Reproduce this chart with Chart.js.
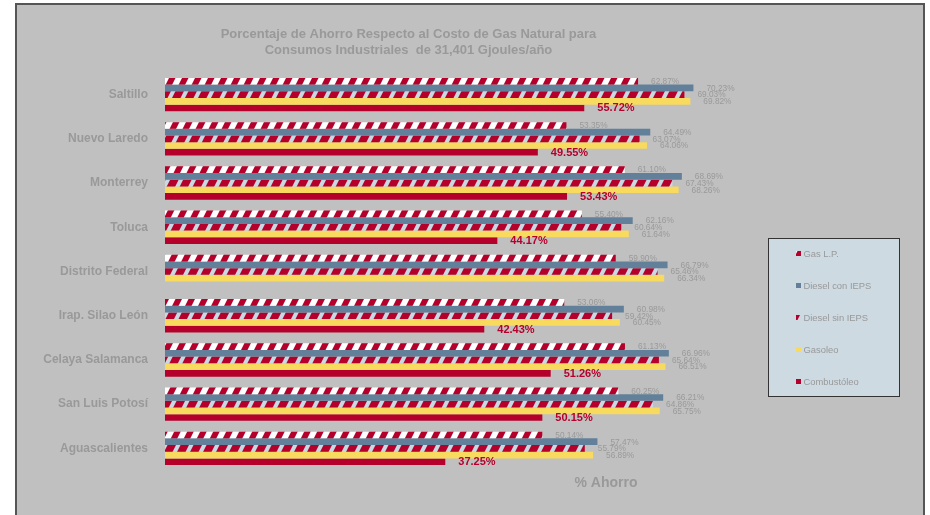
<!DOCTYPE html>
<html>
<head>
<meta charset="utf-8">
<script src="https://cdn.jsdelivr.net/npm/chart.js@4.4.0/dist/chart.umd.min.js"></script>
<style>
  body { margin: 0; background: #fff; }
  #frame { position: absolute; left: 15px; top: 3px; width: 906px; height: 530px;
           background: #c0c0c0; border: 2px solid #555; border-bottom: none; }
  #wrap { position: absolute; left: 0; top: 0; width: 930px; height: 515px; }
</style>
</head>
<body>
<div id="frame"></div>
<div id="wrap"><canvas id="chart" width="930" height="515"></canvas></div>
<script>
const cities = ['Saltillo', 'Nuevo Laredo', 'Monterrey', 'Toluca', 'Distrito Federal',
                'Irap. Silao León', 'Celaya Salamanca', 'San Luis Potosí', 'Aguascalientes'];
const gasLP        = [62.87, 53.35, 61.10, 55.40, 59.90, 53.06, 61.13, 60.25, 50.14];
const dieselConIEPS = [70.23, 64.49, 68.69, 62.16, 66.79, 60.98, 66.96, 66.21, 57.47];
const dieselSinIEPS = [69.03, 63.07, 67.43, 60.64, 65.46, 59.42, 65.64, 64.86, 55.79];
const gasoleo      = [69.82, 64.06, 68.26, 61.64, 66.34, 60.45, 66.51, 65.75, 56.89];
const combustoleo  = [55.72, 49.55, 53.43, 44.17, null, 42.43, 51.26, 50.15, 37.25];

const FONT = '"Liberation Sans", Arial, sans-serif';
const GRAY = '#999999';
const RED = '#b5002b';

// diagonal stripe fill like the excel pattern (period 13px, gentle slope)
function stripes(bg, fg, w) {
    const s = 13, h = 26;
    const c = document.createElement('canvas');
    c.width = s; c.height = h;
    const g = c.getContext('2d');
    g.fillStyle = bg;
    g.fillRect(0, 0, s, h);
    g.fillStyle = fg;
    for (const o of [0, s, 2 * s]) {
        g.beginPath();
        g.moveTo(o, 0); g.lineTo(o + w, 0); g.lineTo(o + w - s, h); g.lineTo(o - s, h);
        g.closePath();
        g.fill();
    }
    return g.createPattern(c, 'repeat');
}

const datasets = [
    { label: 'Gas L.P.', data: gasLP, backgroundColor: stripes('#ffffff', RED, 6.5) },
    { label: 'Diesel con IEPS', data: dieselConIEPS, backgroundColor: '#62809a' },
    { label: 'Diesel sin IEPS', data: dieselSinIEPS, backgroundColor: stripes('#c9d9e4', RED, 8.5) },
    { label: 'Gasoleo', data: gasoleo, backgroundColor: '#f8da5e' },
    { label: 'Combustóleo', data: combustoleo, backgroundColor: RED }
];

// value labels at the end of each bar
const valueLabels = {
    id: 'valueLabels',
    afterDatasetsDraw(chart) {
        const ctx = chart.ctx;
        ctx.save();
        ctx.textBaseline = 'middle';
        ctx.textAlign = 'left';
        chart.data.datasets.forEach((ds, i) => {
            const meta = chart.getDatasetMeta(i);
            meta.data.forEach((bar, j) => {
                const v = ds.data[j];
                if (v == null) return;
                if (i === 4) {
                    ctx.font = 'bold 11px ' + FONT;
                    ctx.fillStyle = RED;
                } else {
                    ctx.font = '8.3px ' + FONT;
                    ctx.fillStyle = GRAY;
                }
                ctx.fillText(v.toFixed(2) + '%', bar.x + 13, bar.y + 0.5);
            });
        });
        ctx.restore();
    }
};

// boxed legend on the right and the axis caption
const sideLegend = {
    id: 'sideLegend',
    afterDraw(chart) {
        const ctx = chart.ctx;
        ctx.save();
        ctx.fillStyle = '#cddae2';
        ctx.fillRect(768, 238, 132, 159);
        ctx.strokeStyle = '#333';
        ctx.lineWidth = 1;
        ctx.strokeRect(768.5, 238.5, 131, 158);
        ctx.font = '9.4px ' + FONT;
        ctx.textBaseline = 'middle';
        chart.data.datasets.forEach((ds, i) => {
            const y = 254 + i * 32;
            ctx.fillStyle = ds.backgroundColor;
            ctx.fillRect(796, y - 3, 5, 5);
            ctx.fillStyle = GRAY;
            ctx.fillText(ds.label, 803.5, y);
        });
        ctx.font = 'bold 14px ' + FONT;
        ctx.textAlign = 'center';
        ctx.fillStyle = GRAY;
        ctx.fillText('% Ahorro', chart.scales.x.getPixelForValue(58.6), 483);
        ctx.restore();
    }
};

new Chart(document.getElementById('chart'), {
    type: 'bar',
    data: { labels: cities, datasets },
    options: {
        indexAxis: 'y',
        responsive: false,
        animation: false,
        devicePixelRatio: 1,
        categoryPercentage: 0.755,
        barPercentage: 1,
        borderWidth: 0,
        layout: { padding: { left: 0, right: 113, top: 0, bottom: 44.5 } },
        plugins: {
            legend: { display: false },
            tooltip: { enabled: false },
            title: {
                display: true,
                text: ['Porcentaje de Ahorro Respecto al Costo de Gas Natural para',
                       'Consumos Industriales  de 31,401 Gjoules/año'],
                color: GRAY,
                font: { family: FONT, size: 13, weight: 'bold', lineHeight: 1.25 },
                padding: { top: 26, bottom: 14 }
            }
        },
        scales: {
            x: { display: false, min: 0, max: 86.65 },
            y: {
                grid: { display: false, drawTicks: false },
                border: { display: false },
                ticks: { color: GRAY, padding: 17, font: { family: FONT, size: 12, weight: 'bold' } },
                afterFit(scale) { scale.width = 165; }
            }
        }
    },
    plugins: [valueLabels, sideLegend]
});
</script>
</body>
</html>
